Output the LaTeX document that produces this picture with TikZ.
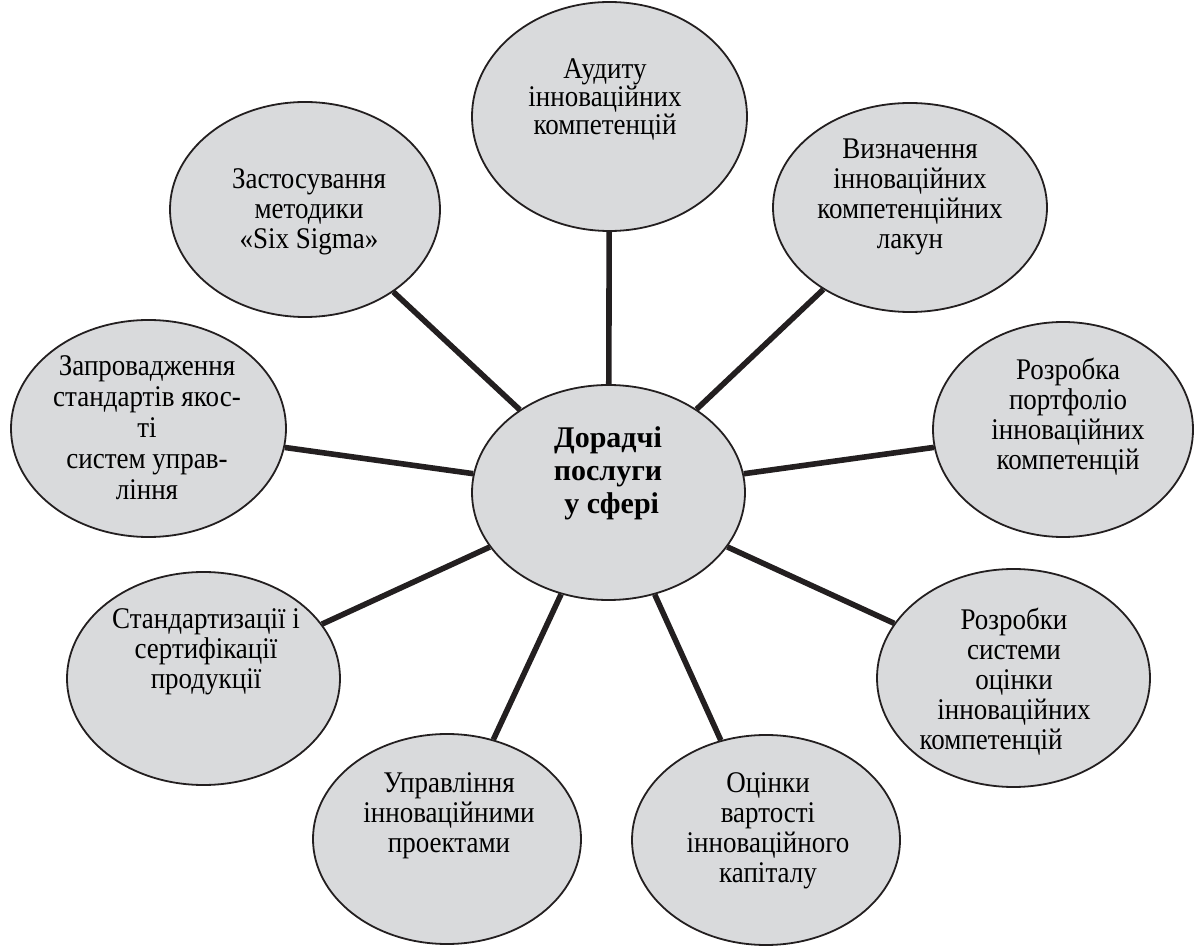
\documentclass[tikz,border=0pt]{standalone}
\usepackage{fontspec}
\setmainfont{Liberation Serif}
\newfontfamily\narrowserif{Liberation Serif}[FakeStretch=0.9]
\usetikzlibrary{shapes}

\definecolor{bubblegray}{RGB}{217,218,220}
\definecolor{inkblack}{RGB}{35,31,32}

\begin{document}
\begin{tikzpicture}[x=0.5pt, y=-0.5pt]
    \tikzstyle{bubble} = [draw=inkblack, line width=0.9pt, fill=bubblegray, ellipse, inner sep=0pt];
    \tikzstyle{caption} = [anchor=north, inner sep=0pt, align=center, text=black, font=\narrowserif\fontsize{15}{15}\selectfont];
    \tikzstyle{spoke} = [draw=inkblack, line width=2.8pt];

    \useasboundingbox (0, 0) rectangle (1195, 946);

    % ellipses
    \node[bubble, minimum width=136.5pt, minimum height=107.5pt] at (608.5, 492.5) (hub) {};
    \node[bubble, minimum width=137.5pt, minimum height=114.5pt] at (609.5, 116.5) (audit) {};
    \node[bubble, minimum width=137pt, minimum height=104.5pt] at (910, 207.5) (gaps) {};
    \node[bubble, minimum width=130pt, minimum height=107.5pt] at (1063, 429.5) (port) {};
    \node[bubble, minimum width=136.5pt, minimum height=109pt] at (1013.5, 678) (evalsys) {};
    \node[bubble, minimum width=134pt, minimum height=105pt] at (766, 840) (capital) {};
    \node[bubble, minimum width=134pt, minimum height=105pt] at (447, 839) (projects) {};
    \node[bubble, minimum width=136.5pt, minimum height=106.5pt] at (203.5, 678.5) (standards) {};
    \node[bubble, minimum width=137.5pt, minimum height=108.5pt] at (148.5, 428.5) (quality) {};
    \node[bubble, minimum width=135pt, minimum height=107.5pt] at (305, 209.5) (sigma) {};

    % texts
    \node[caption, font=\fontsize{15}{16.5}\selectfont\bfseries] at (608, 426.5) (hub-t) {Дорадчі\\послуги\\\ у сфері};
    \node[caption, font=\narrowserif\fontsize{15}{14}\selectfont] at (605, 58) (audit-t) {Аудиту\\інноваційних\\компетенцій};
    \node[caption] at (910, 138) (gaps-t) {Визначення\\інноваційних\\компетенційних\\лакун};
    \node[caption] at (1068, 358) (port-t) {Розробка\\портфоліо\\інноваційних\\компетенцій};
    \node[caption] at (1014, 608) (evalsys-t) {Розробки\\системи\\оцінки\\інноваційних\\компетенцій\hspace*{23pt}};
    \node[caption] at (768, 772) (capital-t) {Оцінки\\вартості\\інноваційного\\капіталу};
    \node[caption] at (449, 772) (projects-t) {Управління\\інноваційними\\проектами};
    \node[caption] at (206, 608) (standards-t) {Стандартизації і\\сертифікації\\продукції};
    \node[caption, font=\narrowserif\fontsize{15}{15.5}\selectfont] at (147, 355) (quality-t) {Запровадження\\стандартів якос-\\ті\\систем управ-\\ління};
    \node[caption] at (309, 168) (sigma-t) {Застосування\\методики\\«Six Sigma»};

    % spokes
    \draw[spoke] (hub) -- (audit);
    \draw[spoke] (hub) -- (gaps);
    \draw[spoke] (hub) -- (port);
    \draw[spoke] (hub) -- (evalsys);
    \draw[spoke] (hub) -- (capital);
    \draw[spoke] (hub) -- (projects);
    \draw[spoke] (hub) -- (standards);
    \draw[spoke] (hub) -- (quality);
    \draw[spoke] (hub) -- (sigma);
\end{tikzpicture}
\end{document}
